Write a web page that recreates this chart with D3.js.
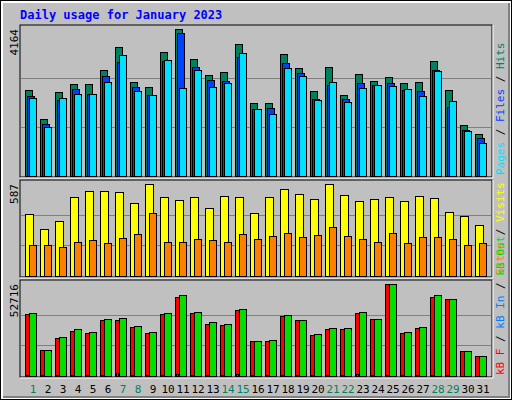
<!DOCTYPE html>
<html><head><meta charset="utf-8">
<script src="https://cdn.jsdelivr.net/npm/d3@7"></script>
<style>body{margin:0;background:#fff}text{font-family:"DejaVu Sans Mono",monospace}</style>
</head><body><svg id="c" width="512" height="400"></svg>
<script>
var days = d3.range(1, 32);
var weekend = [1, 7, 8, 14, 15, 21, 22, 28, 29];
var hits = [2432,1609,2375,2603,2603,3000,3653,2659,2517,3511,4164,3312,2858,2943,3738,2063,2063,3454,3057,2404,3085,2290,2887,2688,2801,2631,2659,3256,2432,1439,1183];
var files = [2262,1467,2158,2461,2319,2830,3237,2517,2290,3265,4051,3085,2716,2688,3369,1893,1921,3199,2915,2177,2574,2177,2631,2574,2631,2432,2404,3000,1950,1297,1069];
var pages = [2205,1382,2205,2319,2319,2659,3426,2404,2290,3284,2489,3000,2517,2631,3483,1893,1751,3057,2830,2148,2659,2092,2489,2574,2546,2461,2262,2972,2120,1268,927];
var visits = [395,299,350,504,542,542,536,465,587,504,485,504,433,510,504,401,504,555,523,491,587,517,478,491,504,478,510,497,408,382,324];
var sites = [196,196,184,216,228,209,241,267,401,216,216,235,228,216,267,235,254,273,248,260,312,254,235,216,273,209,248,248,235,196,209];
var kbF = [35337,15062,22013,26069,24910,31862,31862,27806,24910,35337,45185,35917,29544,28965,37655,20276,20276,34179,31862,23751,26648,26648,35917,32441,52716,24910,27227,45185,44027,14483,11586];
var kbIn = [700,300,600,600,600,700,1500,700,500,700,1400,700,600,600,1400,600,600,600,500,600,700,600,1400,500,600,500,600,700,600,200,200];
var kbOut = [35917,15062,22593,26648,25489,32441,33020,28386,25489,35917,46344,36496,30703,29544,38234,20276,20855,34758,31862,24331,27227,27227,36496,32441,52716,25489,27806,46344,44027,14483,11586];

var svg = d3.select('#c');

// frame
svg.append('rect').attr('x', 0).attr('y', 0).attr('width', 512).attr('height', 400).style('fill', '#000');
svg.append('rect').attr('x', 1).attr('y', 1).attr('width', 510).attr('height', 398).style('fill', '#fff');
svg.append('rect').attr('x', 3).attr('y', 3).attr('width', 507).attr('height', 395).style('fill', '#808080');
svg.append('rect').attr('x', 3).attr('y', 3).attr('width', 505).attr('height', 393).style('fill', '#c0c0c0');

svg.append('text').attr('x', 20).attr('y', 19)
    .style('font-size', '12px').style('font-weight', 'bold').style('fill', '#0000ff')
    .text('Daily usage for January 2023');

var x = d3.scaleBand().domain(days).range([22, 487]);

function panel ( top, bottom, max, label, series, legend ) {

    var y = d3.scaleLinear().domain([0, max]).range([bottom - 1, top]);

    svg.append('rect').attr('x', 20).attr('y', top - 4).attr('width', 472).attr('height', bottom - top + 4)
        .style('fill', '#c0c0c0').style('stroke', '#000');
    svg.append('path').attr('d', 'M20,' + (bottom + 1) + 'H493V' + (top - 4))
        .style('fill', 'none').style('stroke', '#fff');

    [1, 2].forEach(function (k) {
        svg.append('line').attr('x1', 21).attr('x2', 491)
            .attr('y1', Math.round(y(max * k / 3)) + 0.5).attr('y2', Math.round(y(max * k / 3)) + 0.5)
            .style('stroke', '#808080');
    });

    series.forEach(function (s) {
        svg.append('g').selectAll('rect').data(s.values).enter().append('rect')
            .attr('x', function (d, i) { return x(days[i]) + s.off + 0.5 })
            .attr('y', function (d) { return Math.round(y(d)) + 0.5 })
            .attr('width', s.w)
            .attr('height', function (d) { return Math.max(0, Math.round(y(0)) - Math.round(y(d))) })
            .style('fill', s.color).style('stroke', '#000');
    });

    svg.append('text').attr('transform', 'translate(18,' + top + ') rotate(-90)')
        .attr('text-anchor', 'end').style('font-size', '11px').style('fill', '#000').text(label);

    var t = svg.append('text').attr('transform', 'translate(504,' + (bottom - 2) + ') rotate(-90)')
        .style('font-size', '11px');
    legend.forEach(function (l, i) {
        if (i) t.append('tspan').style('fill', '#000').text(' / ');
        t.append('tspan').style('fill', l[1]).text(l[0]);
    });
}

panel(29, 177, 4164, '4164', [
    { values: hits, color: '#00805c', off: 3, w: 7 },
    { values: files, color: '#0040ff', off: 5, w: 7 },
    { values: pages, color: '#00e0ff', off: 7, w: 7 }
], [['Pages', '#00e0ff'], ['Files', '#0040ff'], ['Hits', '#00805c']]);

panel(184, 277, 587, '587', [
    { values: visits, color: '#ffff00', off: 3, w: 8 },
    { values: sites, color: '#ff8000', off: 7, w: 7 }
], [['Sites', '#ff8000'], ['Visits', '#ffff00']]);

panel(284, 377, 52716, '52716', [
    { values: kbF, color: '#ff0000', off: 3, w: 8 },
    { values: kbIn, color: '#0080ff', off: 4, w: 2 },
    { values: kbOut, color: '#00e000', off: 7, w: 7 }
], [['kB F', '#ff0000'], ['kB In', '#0080ff'], ['kB Out', '#00e000']]);

svg.append('g').selectAll('text').data(days).enter().append('text')
    .attr('x', function (d) { return x(d) + 11 })
    .attr('y', 393).attr('text-anchor', 'middle').style('font-size', '11px')
    .style('fill', function (d) { return weekend.indexOf(d) >= 0 ? '#00805c' : '#000' })
    .text(function (d) { return d });
</script></body></html>
